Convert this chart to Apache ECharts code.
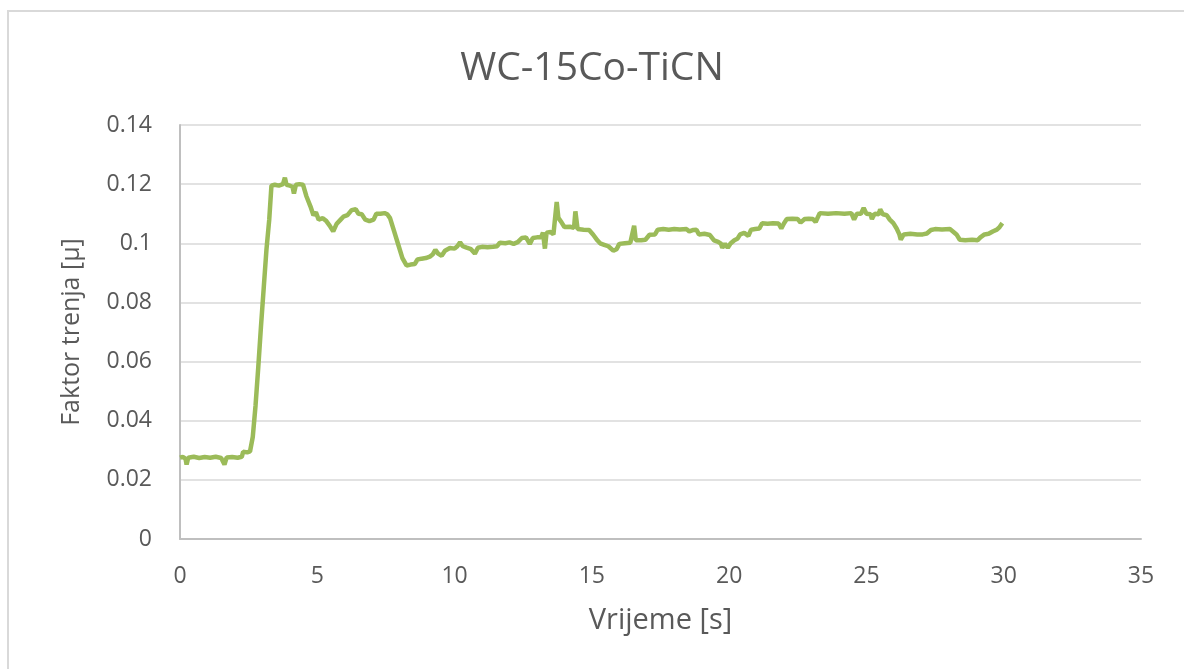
<!DOCTYPE html>
<html>
<head>
<meta charset="utf-8">
<script src="https://cdn.jsdelivr.net/npm/echarts@6/dist/echarts.min.js"></script>
<style>
  html, body { margin: 0; padding: 0; background: #fff; }
  #chart { width: 1184px; height: 669px; }
</style>
</head>
<body>
<div id="chart"></div>
<script>
// Friction coefficient over time
var timeS = [
  0.00, 0.10, 0.20, 0.24, 0.30, 0.50, 0.70, 0.90, 1.10, 1.30, 1.50, 1.62, 1.70, 1.90, 2.10, 2.25,
  2.30, 2.45, 2.55, 2.65, 2.75, 2.85, 2.95, 3.05, 3.15, 3.25, 3.33, 3.45, 3.60, 3.75, 3.82, 3.88,
  4.00, 4.10, 4.15, 4.22, 4.35, 4.48, 4.60, 4.75, 4.86, 4.95, 5.05, 5.20, 5.33, 5.45, 5.58, 5.70,
  5.85, 5.95, 6.10, 6.25, 6.40, 6.50, 6.62, 6.75, 6.90, 7.05, 7.15, 7.30, 7.45, 7.55, 7.65, 7.80,
  7.95, 8.10, 8.25, 8.40, 8.55, 8.65, 8.80, 8.95, 9.10, 9.20, 9.30, 9.40, 9.53, 9.65, 9.83, 10.00,
  10.10, 10.20, 10.30, 10.44, 10.60, 10.74, 10.85, 11.00, 11.20, 11.40, 11.55, 11.65, 11.85, 12.00,
  12.15, 12.30, 12.45, 12.60, 12.74, 12.85, 13.00, 13.15, 13.22, 13.29, 13.35, 13.50, 13.60, 13.72,
  13.78, 13.90, 14.00, 14.20, 14.35, 14.40, 14.48, 14.70, 14.90, 15.05, 15.20, 15.30, 15.45, 15.60,
  15.78, 15.90, 16.00, 16.20, 16.40, 16.54, 16.60, 16.80, 16.95, 17.10, 17.30, 17.40, 17.60, 17.80,
  18.00, 18.20, 18.45, 18.55, 18.70, 18.81, 18.90, 19.10, 19.30, 19.45, 19.60, 19.70, 19.75, 19.85,
  19.95, 20.05, 20.19, 20.30, 20.40, 20.55, 20.70, 20.80, 20.95, 21.10, 21.20, 21.40, 21.60, 21.80,
  21.90, 22.00, 22.10, 22.30, 22.50, 22.60, 22.75, 22.90, 23.05, 23.15, 23.30, 23.60, 23.90, 24.20,
  24.45, 24.55, 24.65, 24.80, 24.90, 25.00, 25.15, 25.20, 25.30, 25.45, 25.50, 25.60, 25.74, 25.85,
  25.98, 26.10, 26.20, 26.25, 26.36, 26.60, 26.85, 27.05, 27.20, 27.35, 27.50, 27.75, 28.04, 28.15,
  28.28, 28.40, 28.60, 28.85, 29.05, 29.15, 29.30, 29.45, 29.60, 29.75, 29.85, 29.95
];
var frictionMu = [
  0.0275, 0.0278, 0.0272, 0.0252, 0.0275, 0.0278, 0.0274, 0.0277, 0.0275, 0.0278, 0.0274, 0.0252, 0.0276, 0.0277, 0.0275, 0.0278,
  0.0295, 0.0293, 0.0296, 0.0345, 0.0450, 0.0580, 0.0720, 0.0850, 0.0980, 0.1080, 0.1195, 0.1198, 0.1195, 0.1200, 0.1222, 0.1198,
  0.1195, 0.1190, 0.1168, 0.1198, 0.1200, 0.1198, 0.1160, 0.1125, 0.1095, 0.1105, 0.1080, 0.1085, 0.1075, 0.1060, 0.1040, 0.1065,
  0.1080, 0.1090, 0.1095, 0.1112, 0.1115, 0.1100, 0.1098, 0.1080, 0.1075, 0.1080, 0.1100, 0.1100, 0.1102, 0.1098, 0.1085, 0.1040,
  0.0995, 0.0950, 0.0925, 0.0928, 0.0930, 0.0945, 0.0948, 0.0950, 0.0955, 0.0962, 0.0978, 0.0965, 0.0958, 0.0975, 0.0984, 0.0982,
  0.0990, 0.1003, 0.0990, 0.0985, 0.0980, 0.0965, 0.0985, 0.0988, 0.0987, 0.0988, 0.0990, 0.1002, 0.1000, 0.1003,
  0.0998, 0.1004, 0.1018, 0.1020, 0.0998, 0.1018, 0.1020, 0.1020, 0.1036, 0.0982, 0.1036, 0.1038, 0.1030, 0.1140,
  0.1086, 0.1070, 0.1055, 0.1056, 0.1052, 0.1108, 0.1048, 0.1046, 0.1045, 0.1029, 0.1010, 0.1000, 0.0995, 0.0990,
  0.0975, 0.0980, 0.0998, 0.1000, 0.1002, 0.1059, 0.1010, 0.1010, 0.1012, 0.1029, 0.1030, 0.1046, 0.1048, 0.1046,
  0.1048, 0.1047, 0.1048, 0.1040, 0.1045, 0.1046, 0.1030, 0.1032, 0.1028, 0.1010, 0.1005, 0.0999, 0.0985, 0.0998,
  0.0985, 0.0999, 0.1010, 0.1015, 0.1030, 0.1035, 0.1025, 0.1046, 0.1048, 0.1050, 0.1068, 0.1066, 0.1068, 0.1067,
  0.1050, 0.1068, 0.1082, 0.1083, 0.1082, 0.1070, 0.1082, 0.1083, 0.1082, 0.1072, 0.1102, 0.1100, 0.1102, 0.1100,
  0.1102, 0.1080, 0.1100, 0.1100, 0.1119, 0.1100, 0.1098, 0.1082, 0.1100, 0.1098, 0.1115, 0.1098, 0.1095, 0.1080,
  0.1068, 0.1050, 0.1030, 0.1012, 0.1030, 0.1032, 0.1030, 0.1030, 0.1033, 0.1045, 0.1048, 0.1047, 0.1048, 0.1040,
  0.1030, 0.1012, 0.1010, 0.1012, 0.1010, 0.1020, 0.1030, 0.1032, 0.1040, 0.1046, 0.1055, 0.1068
];

var chart = echarts.init(document.getElementById('chart'));
var textColor = '#595959';
var font = '"Open Sans", "Noto Sans", sans-serif';

var points = timeS.map(function (t, i) { return [t, frictionMu[i]]; });

chart.setOption({
  backgroundColor: '#ffffff',
  animation: false,
  textStyle: { fontFamily: font },

  // outer frame
  graphic: [{
    type: 'rect',
    shape: { x: 8, y: 11, width: 1200, height: 700 },
    style: { fill: 'none', stroke: '#d9d9d9', lineWidth: 2 },
    silent: true
  }],

  title: {
    text: 'WC-15Co-TiCN',
    left: 'center',
    top: 44,
    textStyle: { color: textColor, fontSize: 39, fontWeight: 'normal', fontFamily: font }
  },

  grid: { left: 180, right: 43, top: 125, bottom: 130 },

  xAxis: {
    type: 'value',
    min: 0,
    max: 35,
    interval: 5,
    name: 'Vrijeme [s]',
    nameLocation: 'middle',
    nameGap: 67,
    nameTextStyle: { color: textColor, fontSize: 29, fontFamily: font },
    axisLine: { show: true, onZero: false, lineStyle: { color: '#bfbfbf', width: 2 } },
    axisTick: { show: false },
    splitLine: { show: false },
    axisLabel: { color: textColor, fontSize: 23, margin: 26, fontFamily: font }
  },

  yAxis: {
    type: 'value',
    min: 0,
    max: 0.14,
    interval: 0.02,
    name: 'Faktor trenja [µ]',
    nameLocation: 'middle',
    nameGap: 96,
    nameTextStyle: { color: textColor, fontSize: 25, fontFamily: font },
    axisLine: { show: true, lineStyle: { color: '#bfbfbf', width: 2 } },
    axisTick: { show: false },
    splitLine: { show: true, lineStyle: { color: '#d9d9d9', width: 1.5 } },
    axisLabel: { color: textColor, fontSize: 23, margin: 28, fontFamily: font }
  },

  series: [{
    type: 'line',
    data: points,
    showSymbol: false,
    lineStyle: { color: '#9bbb59', width: 4.5 },
    itemStyle: { color: '#9bbb59' }
  }]
});
</script>
</body>
</html>
